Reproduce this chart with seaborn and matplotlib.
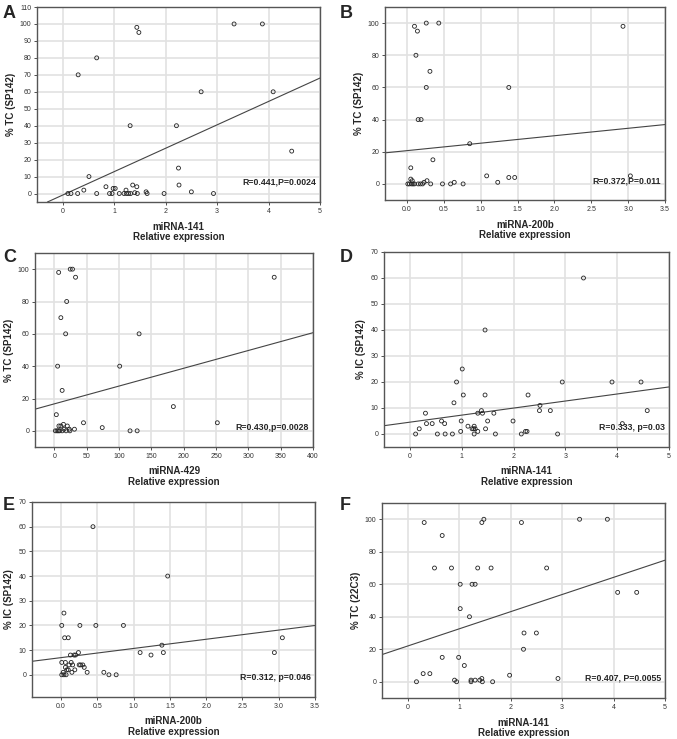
import numpy as np
import matplotlib
matplotlib.use("Agg")
import matplotlib.pyplot as plt
import seaborn as sns

# Panel A: miRNA-141 vs % TC (SP142)
a_x = [0.10, 0.16, 0.29, 0.30, 0.41, 0.51, 0.66, 0.66, 0.84, 0.91, 0.96, 0.98, 1.02, 1.10,
       1.19, 1.23, 1.24, 1.28, 1.31, 1.32, 1.36, 1.40, 1.44, 1.44, 1.45, 1.48, 1.62, 1.64,
       1.97, 2.21, 2.25, 2.26, 2.50, 2.69, 2.93, 3.33, 3.88, 4.09, 4.45]
a_y = [0, 0, 0, 70, 2, 10, 80, 0, 4, 0, 0, 3, 3, 0,
       0, 2, 0, 0, 40, 0, 5, 0.5, 98, 4, 0, 95, 1, 0,
       0, 40, 15, 5, 1, 60, 0, 100, 100, 60, 25]

# Panel B: miRNA-200b vs % TC (SP142)
b_x = [0.10, 0.14, 0.26, 0.43, 0.12, 0.31, 0.26, 0.15, 0.19, 0.05, 0.35, 0.85, 1.38, 2.93,
       3.03, 0.01, 0.03, 0.06, 0.08, 0.10, 0.15, 0.18, 0.21, 0.05, 0.07, 0.23, 0.27, 0.32,
       0.48, 0.59, 0.64, 0.76, 1.08, 1.23, 1.38, 1.46]
b_y = [98, 95, 100, 100, 80, 70, 60, 40, 40, 10, 15, 25, 60, 98,
       5, 0, 0, 0, 0, 0, 0, 0, 0, 3, 2, 1, 2, 0,
       0, 0, 1, 0, 5, 1, 4, 4]

# Panel C: miRNA-429 vs % TC (SP142)
c_x = [6.6, 24.5, 28, 32.7, 19, 10, 17.4, 5, 12, 3, 101, 131, 184, 252, 340, 45, 74, 117,
       128, 31, 1.5, 4, 6, 8, 7, 10, 14, 15, 20, 23, 24, 12, 18]
c_y = [98, 100, 100, 95, 80, 70, 60, 40, 25, 10, 40, 60, 15, 5, 95, 5, 2, 0,
       0, 1, 0, 0, 0, 0, 3, 3, 4, 1, 3, 1, 0, 0, 0]

# Panel D: miRNA-141 vs % IC (SP142)
d_x = [0.11, 0.18, 0.30, 0.32, 0.43, 0.53, 0.61, 0.67, 0.68, 0.82, 0.85, 0.90, 0.98, 0.99,
       1.01, 1.03, 1.12, 1.20, 1.23, 1.24, 1.24, 1.26, 1.31, 1.31, 1.38, 1.40, 1.45, 1.45,
       1.46, 1.50, 1.62, 1.65, 1.99, 2.15, 2.23, 2.26, 2.28, 2.50, 2.51, 2.71, 2.85, 2.94,
       3.35, 3.90, 4.10, 4.46, 4.58]
d_y = [0, 2, 8, 4, 4, 0, 5, 4, 0, 0, 12, 20, 1, 5,
       25, 15, 3, 2, 2, 0, 3, 2, 1, 8, 9, 8, 40, 15,
       2, 5, 8, 0, 5, 0, 1, 1, 15, 9, 11, 9, 0, 20,
       60, 20, 4, 20, 9]

# Panel E: miRNA-200b vs % IC (SP142)
e_x = [0.44, 1.47, 0.04, 0.01, 0.26, 0.48, 0.86, 0.05, 0.10, 3.05, 1.39, 0.24, 0.13, 0.18,
       0.20, 1.09, 1.24, 1.41, 2.94, 0.01, 0.06, 0.14, 0.11, 0.16, 0.25, 0.27, 0.30, 0.32,
       0.06, 0.08, 0.10, 0.19, 0.15, 0.36, 0.59, 0.66, 0.76, 0.01, 0.04, 0.07, 0.03]
e_y = [60, 40, 25, 20, 20, 20, 20, 15, 15, 15, 12, 9, 8, 8,
       8, 9, 8, 9, 9, 5, 5, 5, 4, 4, 4, 4, 4, 3,
       3, 2, 2, 2, 1, 1, 1, 0, 0, 0, 0, 0, 1]

# Panel F: miRNA-141 vs % TC (22C3)
f_x = [0.17, 0.30, 0.32, 0.52, 0.43, 0.67, 0.67, 0.85, 0.91, 0.95, 0.99, 1.02, 1.02, 1.10,
       1.20, 1.23, 1.23, 1.25, 1.31, 1.31, 1.36, 1.40, 1.44, 1.44, 1.45, 1.48, 1.62, 1.65,
       1.98, 2.21, 2.25, 2.26, 2.50, 2.70, 2.92, 3.34, 3.88, 4.08, 4.45]
f_y = [0, 5, 98, 70, 5, 90, 15, 70, 1, 0, 15, 60, 45, 10,
       40, 0, 1, 60, 60, 1, 70, 1, 98, 2, 0, 100, 70, 0,
       4, 98, 20, 30, 30, 70, 2, 100, 100, 55, 55]

# fitted lines (intercept, slope)
fit_intercept = [-0.9, 20.7, 16.7, 4.55, 6.95, 22.0]
fit_slope = [13.8, 4.63, 0.110, 2.71, 3.72, 10.56]

letters = ["A", "B", "C", "D", "E", "F"]
xnames = ["miRNA-141", "miRNA-200b", "miRNA-429", "miRNA-141", "miRNA-200b", "miRNA-141"]
ynames = ["% TC (SP142)", "% TC (SP142)", "% TC (SP142)", "% IC (SP142)", "% IC (SP142)", "% TC (22C3)"]
stats = ["R=0.441,P=0.0024", "R=0.372,P=0.011", "R=0.430,p=0.0028",
         "R=0.333, p=0.03", "R=0.312, p=0.046", "R=0.407, P=0.0055"]
xlims = [(-0.5, 5), (-0.3, 3.5), (-30, 400), (-0.5, 5), (-0.4, 3.5), (-0.5, 5)]
ylims = [(-5, 110), (-10, 110), (-10, 110), (-5, 70), (-9, 70), (-10, 110)]
xtick_sets = [np.arange(0, 5.1, 1), np.arange(0, 3.51, 0.5), np.arange(0, 401, 50),
              np.arange(0, 5.1, 1), np.arange(0, 3.51, 0.5), np.arange(0, 5.1, 1)]
ytick_sets = [np.arange(0, 111, 10), np.arange(0, 101, 20), np.arange(0, 101, 20),
              np.arange(0, 71, 10), np.arange(0, 71, 10), np.arange(0, 101, 20)]
xfmt = ["{:.0f}", "{:.1f}", "{:.0f}", "{:.0f}", "{:.1f}", "{:.0f}"]
xs = [a_x, b_x, c_x, d_x, e_x, f_x]
ys = [a_y, b_y, c_y, d_y, e_y, f_y]

sns.set_style("whitegrid")
plt.rcParams['font.family'] = ['Liberation Sans', 'DejaVu Sans']

W, H = 677, 739
fig = plt.figure(figsize=(W / 100, H / 100), dpi=100)

# axes boxes in pixels: left, right, top, bottom
boxes = [(37, 320, 7, 202), (385, 665, 7, 200),
         (35, 313, 253, 447), (384, 669, 252, 447),
         (32, 315, 502, 697), (382, 665, 503, 698)]
letter_pos = [(3, 14), (340, 14), (3, 258), (340, 258), (3, 505), (340, 506)]

for i in range(6):
    l, r, t, b = boxes[i]
    ax = fig.add_axes([l / W, 1 - b / H, (r - l) / W, (b - t) / H])
    sns.scatterplot(x=xs[i], y=ys[i], ax=ax, marker="o", s=8, facecolor="none",
                    edgecolor="#222222", linewidth=0.6, zorder=3)
    ax.axline((0, fit_intercept[i]), slope=fit_slope[i], color="#444444", lw=0.8, zorder=2)
    ax.set_xlim(xlims[i])
    ax.set_ylim(ylims[i])
    ax.set_xticks(xtick_sets[i])
    ax.set_xticklabels([xfmt[i].format(v) for v in xtick_sets[i]])
    ax.set_yticks(ytick_sets[i])
    ax.grid(True, color="#e2e2e2", lw=1.2)
    ax.tick_params(labelsize=5, colors="#333333", length=2, width=0.6, pad=2,
                   bottom=True, left=True)
    for s in ax.spines.values():
        s.set_color("#555555")
        s.set_linewidth(1.0)
    ax.set_xlabel(xnames[i] + "\nRelative expression", fontsize=7, fontweight="bold",
                  labelpad=5, linespacing=1.05)
    ax.set_ylabel(ynames[i], fontsize=7, fontweight="bold", labelpad=3)
    ax.text(0.985, 0.1, stats[i], transform=ax.transAxes, ha="right", va="center",
            fontsize=6.3, fontweight="bold")
    fig.text(letter_pos[i][0] / W, 1 - letter_pos[i][1] / H, letters[i],
             fontsize=13, fontweight="bold", ha="left", va="center")

fig.savefig("out.png", dpi=100)
